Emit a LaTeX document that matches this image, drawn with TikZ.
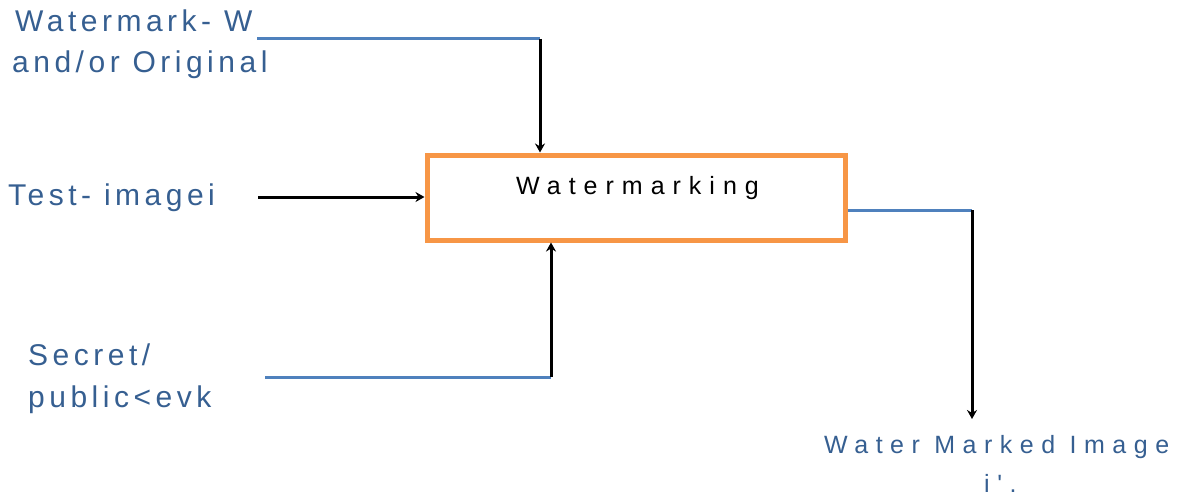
\documentclass[tikz,border=0pt]{standalone}
\usepackage{fontspec}
\usetikzlibrary{arrows.meta}
\newfontfamily\lblfont[LetterSpace=15]{Liberation Sans}
\newfontfamily\outfont[LetterSpace=30]{Liberation Sans}
\newfontfamily\boxfont[LetterSpace=32]{Liberation Sans}
\definecolor{lbltext}{RGB}{54,95,145}
\definecolor{feedblue}{RGB}{79,129,189}
\definecolor{boxorange}{RGB}{247,150,70}
\tikzset{
  lbl/.style={anchor=base west, inner sep=0pt, text=lbltext, font=\lblfont\fontsize{30}{30}\selectfont},
  outlbl/.style={anchor=base west, inner sep=0pt, text=lbltext, font=\outfont\fontsize{25}{25}\selectfont},
  feed/.style={draw=feedblue, line width=3pt},
  flow/.style={draw=black, line width=3pt, -{Stealth[length=9pt,width=10pt]}},
  procbox/.style={draw=boxorange, line width=5pt, fill=white, minimum width=418pt, minimum height=85pt, inner sep=0pt}
}
\begin{document}
\begin{tikzpicture}[x=1pt,y=-1pt]
\useasboundingbox (0,0) rectangle (1185,495);

% central process
\node[procbox] (wm) at (636,197.5) {};
\node[anchor=base west, inner sep=0pt, font=\boxfont\fontsize{25}{25}\selectfont] (wmtext) at (516,194) {Watermarking};

% input labels
\node[lbl] (wmark) at (15,32) {Watermark- W};
\node[lbl] (orig) at (12,72) {and/or Original};
\node[lbl] (test) at (8,205) {Test- imagei};
\node[lbl] (secret) at (28,365) {Secret/};
\node[lbl] (key) at (28,407) {public<evk};

% output labels
\node[outlbl] (outimg) at (824,453) {Water Marked Image};
\node[outlbl] (outsym) at (984,492) {i'.};

% routing points
\coordinate (topstart) at (257,39);
\coordinate (topbend) at (540,39);
\coordinate (teststart) at (258,197);
\coordinate (keystart) at (265,377);
\coordinate (keybend) at (551,377);
\coordinate (outbend) at (972,210);
\coordinate (outend) at (972,419);

% watermark input
\draw[feed] (topstart) -- (topbend);
\draw[flow] (topbend) -- (topbend |- wm.north);

% test image input
\draw[flow] (teststart) -- (teststart -| wm.west);

% key input
\draw[feed] (keystart) -- (keybend);
\draw[flow] (keybend) -- (keybend |- wm.south);

% watermarked output
\draw[feed] (outbend -| wm.east) -- (outbend);
\draw[flow] (outbend) -- (outend);
\end{tikzpicture}
\end{document}
